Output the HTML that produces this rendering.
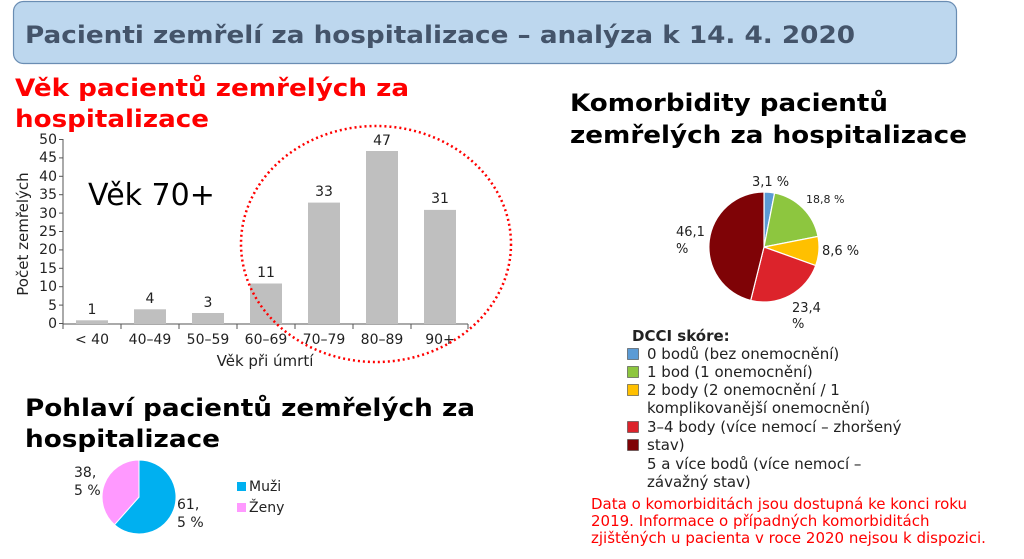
<!DOCTYPE html>
<html><head><meta charset="utf-8"><style>
html,body{margin:0;padding:0;background:#fff;width:1024px;height:559px;overflow:hidden}
svg{display:block;font-family:"DejaVu Sans","Liberation Sans",sans-serif}
</style></head><body>
<svg width="1024" height="559" viewBox="0 0 1024 559">
<rect x="13.5" y="1.5" width="943" height="62" rx="10" fill="#bdd7ee" stroke="#6a8db3" stroke-width="1.2"/>
<text x="25" y="43" font-size="24" font-weight="bold" fill="#44546a" textLength="830" lengthAdjust="spacingAndGlyphs">Pacienti zemřelí za hospitalizace – analýza k 14. 4. 2020</text>

<text x="15" y="96" font-size="24" font-weight="bold" fill="#ff0000" textLength="394" lengthAdjust="spacingAndGlyphs">Věk pacientů zemřelých za</text>
<text x="15" y="127" font-size="24" font-weight="bold" fill="#ff0000" textLength="194" lengthAdjust="spacingAndGlyphs">hospitalizace</text>

<!-- bar chart -->
<g font-size="13" fill="#222">
<g stroke="#555" stroke-width="1">
<line x1="63" y1="139" x2="63" y2="324"/>
<line x1="63" y1="324" x2="468" y2="324"/>
<line x1="59" y1="139.5" x2="63" y2="139.5"/><line x1="59" y1="157.9" x2="63" y2="157.9"/><line x1="59" y1="176.3" x2="63" y2="176.3"/><line x1="59" y1="194.7" x2="63" y2="194.7"/><line x1="59" y1="213.1" x2="63" y2="213.1"/><line x1="59" y1="231.5" x2="63" y2="231.5"/><line x1="59" y1="249.9" x2="63" y2="249.9"/><line x1="59" y1="268.3" x2="63" y2="268.3"/><line x1="59" y1="286.7" x2="63" y2="286.7"/><line x1="59" y1="305.1" x2="63" y2="305.1"/><line x1="59" y1="323.5" x2="63" y2="323.5"/>
<line x1="63" y1="324" x2="63" y2="329"/><line x1="121" y1="324" x2="121" y2="329"/><line x1="179" y1="324" x2="179" y2="329"/><line x1="237" y1="324" x2="237" y2="329"/><line x1="295" y1="324" x2="295" y2="329"/><line x1="353" y1="324" x2="353" y2="329"/><line x1="411" y1="324" x2="411" y2="329"/><line x1="468" y1="324" x2="468" y2="329"/>
</g>
<g text-anchor="end" font-size="14">
<text x="57" y="144">50</text><text x="57" y="162">45</text><text x="57" y="181">40</text><text x="57" y="199">35</text><text x="57" y="218">30</text><text x="57" y="236">25</text><text x="57" y="254">20</text><text x="57" y="273">15</text><text x="57" y="291">10</text><text x="57" y="310">5</text><text x="57" y="328">0</text>
</g>
<g fill="#bfbfbf">
<rect x="76" y="320.3" width="32" height="3.7"/>
<rect x="134" y="309.3" width="32" height="14.7"/>
<rect x="192" y="313" width="32" height="11"/>
<rect x="250" y="283.5" width="32" height="40.5"/>
<rect x="308" y="202.6" width="32" height="121.4"/>
<rect x="366" y="151" width="32" height="173"/>
<rect x="424" y="209.9" width="32" height="114.1"/>
</g>
<g text-anchor="middle" font-size="14">
<text x="92" y="314">1</text><text x="150" y="303">4</text><text x="208" y="307">3</text><text x="266" y="277">11</text><text x="324" y="196">33</text><text x="382" y="145">47</text><text x="440" y="203">31</text>
<text x="92" y="344">&lt; 40</text><text x="150" y="344">40–49</text><text x="208" y="344">50–59</text><text x="266" y="344">60–69</text><text x="324" y="344">70–79</text><text x="382" y="344">80–89</text><text x="440" y="344">90+</text>
<text x="265" y="366" font-size="15">Věk při úmrtí</text>
<text transform="translate(28,234) rotate(-90)" font-size="15">Počet zemřelých</text>
</g>
<text x="88" y="205" font-size="30" fill="#000">Věk 70+</text>
</g>
<ellipse cx="376" cy="244" rx="135" ry="118" fill="none" stroke="#ff0000" stroke-width="2.5" stroke-dasharray="2 3"/>

<!-- gender -->
<text x="25" y="416" font-size="24" font-weight="bold" fill="#000" textLength="450" lengthAdjust="spacingAndGlyphs">Pohlaví pacientů zemřelých za</text>
<text x="25" y="447" font-size="24" font-weight="bold" fill="#000" textLength="195" lengthAdjust="spacingAndGlyphs">hospitalizace</text>
<path d="M139 497 L139 460 A37 37 0 1 1 114.5 524.7 Z" fill="#00b0f0" stroke="#fff" stroke-width="1"/>
<path d="M139 497 L114.5 524.7 A37 37 0 0 1 139 460 Z" fill="#ff99ff" stroke="#fff" stroke-width="1"/>
<g font-size="14" fill="#222">
<text x="74" y="477">38,</text><text x="74" y="495">5 %</text>
<text x="177" y="509">61,</text><text x="177" y="527">5 %</text>
<rect x="237" y="482" width="9" height="9" fill="#00b0f0"/><text x="249" y="491">Muži</text>
<rect x="237" y="503" width="9" height="9" fill="#ff99ff"/><text x="249" y="512">Ženy</text>
</g>

<!-- comorbidity -->
<text x="570" y="111" font-size="24" font-weight="bold" fill="#000" textLength="318" lengthAdjust="spacingAndGlyphs">Komorbidity pacientů</text>
<text x="570" y="143" font-size="24" font-weight="bold" fill="#000" textLength="397" lengthAdjust="spacingAndGlyphs">zemřelých za hospitalizace</text>
<g stroke="#fff" stroke-width="1.2">
<path d="M764 247 L764 192 A55 55 0 0 1 774.6 193 Z" fill="#5b9bd5"/>
<path d="M764 247 L774.6 193 A55 55 0 0 1 818 236.4 Z" fill="#8dc63f"/>
<path d="M764 247 L818 236.4 A55 55 0 0 1 815.7 265.6 Z" fill="#ffc000"/>
<path d="M764 247 L815.7 265.6 A55 55 0 0 1 750.7 300.4 Z" fill="#dc232b"/>
<path d="M764 247 L750.7 300.4 A55 55 0 0 1 764 192 Z" fill="#7f0306"/>
</g>
<g font-size="13" fill="#222">
<text x="752" y="186">3,1 %</text>
<text x="806" y="203" font-size="11">18,8 %</text>
<text x="822" y="255">8,6 %</text>
<text x="676" y="236">46,1</text><text x="676" y="253">%</text>
<text x="792" y="312">23,4</text><text x="792" y="328">%</text>
</g>
<g font-size="15" fill="#222">
<text x="632" y="341" font-weight="bold">DCCI skóre:</text>
<rect x="627.5" y="348.5" width="11" height="11" fill="#5b9bd5" stroke="#444" stroke-width="0.6"/><text x="647" y="359">0 bodů (bez onemocnění)</text>
<rect x="627.5" y="366.5" width="11" height="11" fill="#8dc63f" stroke="#444" stroke-width="0.6"/><text x="647" y="377">1 bod (1 onemocnění)</text>
<rect x="627.5" y="384.5" width="11" height="11" fill="#ffc000" stroke="#444" stroke-width="0.6"/><text x="647" y="395">2 body (2 onemocnění / 1</text>
<text x="647" y="413">komplikovanější onemocnění)</text>
<rect x="627.5" y="421.5" width="11" height="11" fill="#dc232b" stroke="#444" stroke-width="0.6"/><text x="647" y="432">3–4 body (více nemocí – zhoršený</text>
<rect x="627.5" y="439.5" width="11" height="11" fill="#7f0306" stroke="#444" stroke-width="0.6"/><text x="647" y="450">stav)</text>
<text x="647" y="469">5 a více bodů (více nemocí –</text>
<text x="647" y="487">závažný stav)</text>
</g>
<g font-size="15" fill="#ff0000">
<text x="591" y="509">Data o komorbiditách jsou dostupná ke konci roku</text>
<text x="591" y="526">2019. Informace o případných komorbiditách</text>
<text x="591" y="543">zjištěných u pacienta v roce 2020 nejsou k dispozici.</text>
</g>
</svg>
</body></html>
